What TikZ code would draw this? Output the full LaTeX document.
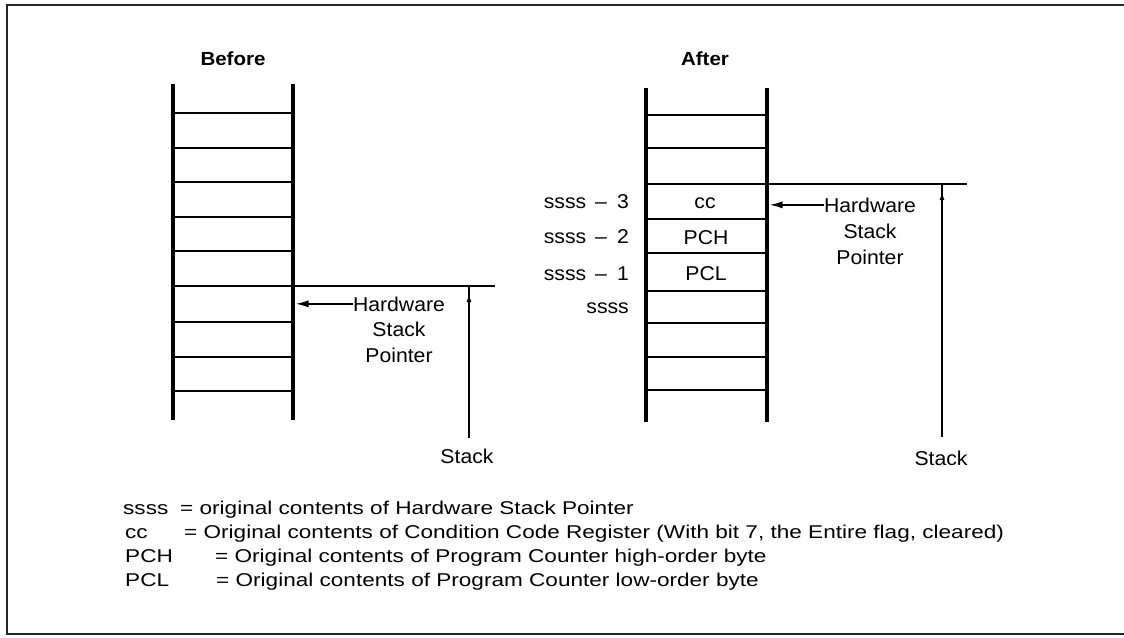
\documentclass[tikz,border=0pt]{standalone}
\usepackage{fontspec}
\setmainfont{Liberation Sans}
\newfontfamily\lblfont[FakeStretch=1.06]{Liberation Sans}
\newfontfamily\legfont[FakeStretch=1.22]{Liberation Sans}
\newfontfamily\ttlfont[FakeStretch=1.08]{Liberation Sans Bold}
\usetikzlibrary{arrows.meta}
\begin{document}
\begin{tikzpicture}[x=1pt,y=-1pt,
  frame/.style={line width=2pt, black!85},
  rail/.style={line width=4.6pt},
  rung/.style={line width=2.8pt},
  spline/.style={line width=1.8pt},
  stkline/.style={line width=1.4pt},
  lbl/.style={font=\lblfont\fontsize{20}{24}\selectfont, inner sep=0pt, anchor=base},
  ttl/.style={font=\ttlfont\fontsize{19}{24}\selectfont, inner sep=0pt, anchor=base},
  leg/.style={font=\legfont\fontsize{18.5}{22}\selectfont, inner sep=0pt, anchor=base west},
  ptr/.style={line width=1.6pt, -{Latex[length=13pt,width=7pt]}},
  up/.style={line width=1.4pt, -{Latex[length=8pt,width=5pt]}},
]
\useasboundingbox (0,0) rectangle (1124,637);
\fill[white] (0,0) rectangle (1124,637);
\draw[frame] (1124,5) -- (7,5) -- (7,634) -- (1124,634);

% ---------- Before ----------
\node[ttl] (tB) at (233,65) {Before};
\foreach \y in {113,148,182,217,251,322,357,391}
  \draw[rung] (173,\y) -- (293,\y);
\draw[rail] (173,84) -- (173,420);
\draw[rail] (293,84) -- (293,420);
\draw[spline] (171,286) -- (495,286);

\node[lbl] (hwB) at (399,311) {Hardware};
\node[lbl] (stB) at (399,336) {Stack};
\node[lbl] (poB) at (399,362) {Pointer};
\coordinate (bR) at (295.5,305);
\draw[ptr] (hwB.west) -- (hwB.west -| bR);

\node[lbl] (skB) at (467,463) {Stack};
\coordinate (bS0) at (469,438);
\coordinate (bS1) at (469,286);
\draw[stkline] (bS0) -- (bS1);
\draw[up, shorten >=8pt] (bS0) -- (bS1);

% ---------- After ----------
\node[ttl] (tA) at (705,65) {After};
\foreach \y in {115,148,219,253,291,323,357,390}
  \draw[rung] (646,\y) -- (767,\y);
\draw[rail] (646,88) -- (646,422);
\draw[rail] (767,88) -- (767,422);
\draw[rung] (644,184) -- (798,184);
\draw[spline] (798,184) -- (967,184);

\node[lbl] (cc) at (705,208) {cc};
\node[lbl] (pch) at (706,244) {PCH};
\node[lbl] (pcl) at (706,280) {PCL};

\node[lbl, anchor=base east] (s3) at (629,208) {ssss\hspace{9pt}\textendash\hspace{10pt}3};
\node[lbl, anchor=base east] (s2) at (629,243) {ssss\hspace{9pt}\textendash\hspace{10pt}2};
\node[lbl, anchor=base east] (s1) at (629,280) {ssss\hspace{9pt}\textendash\hspace{10pt}1};
\node[lbl, anchor=base east] (s0) at (629,313) {ssss};

\node[lbl] (hwA) at (870,212) {Hardware};
\node[lbl] (stA) at (870,238) {Stack};
\node[lbl] (poA) at (870,264) {Pointer};
\coordinate (aR) at (769.5,204);
\draw[ptr] (hwA.west) -- (hwA.west -| aR);

\node[lbl] (skA) at (941,465) {Stack};
\coordinate (aS0) at (942,437);
\coordinate (aS1) at (942,184);
\draw[stkline] (aS0) -- (aS1);
\draw[up, shorten >=8pt] (aS0) -- (aS1);

% ---------- Legend ----------
\node[leg] (k1) at (123,514) {ssss};
\node[leg] (d1) at (180,514) {= original contents of Hardware Stack Pointer};
\node[leg] (k2) at (125,538) {cc};
\node[leg] (d2) at (184,538) {= Original contents of Condition Code Register (With bit 7, the Entire flag, cleared)};
\node[leg] (k3) at (125,562) {PCH};
\node[leg] (d3) at (215,562) {= Original contents of Program Counter high-order byte};
\node[leg] (k4) at (125,586) {PCL};
\node[leg] (d4) at (216,586) {= Original contents of Program Counter low-order byte};
\end{tikzpicture}
\end{document}
